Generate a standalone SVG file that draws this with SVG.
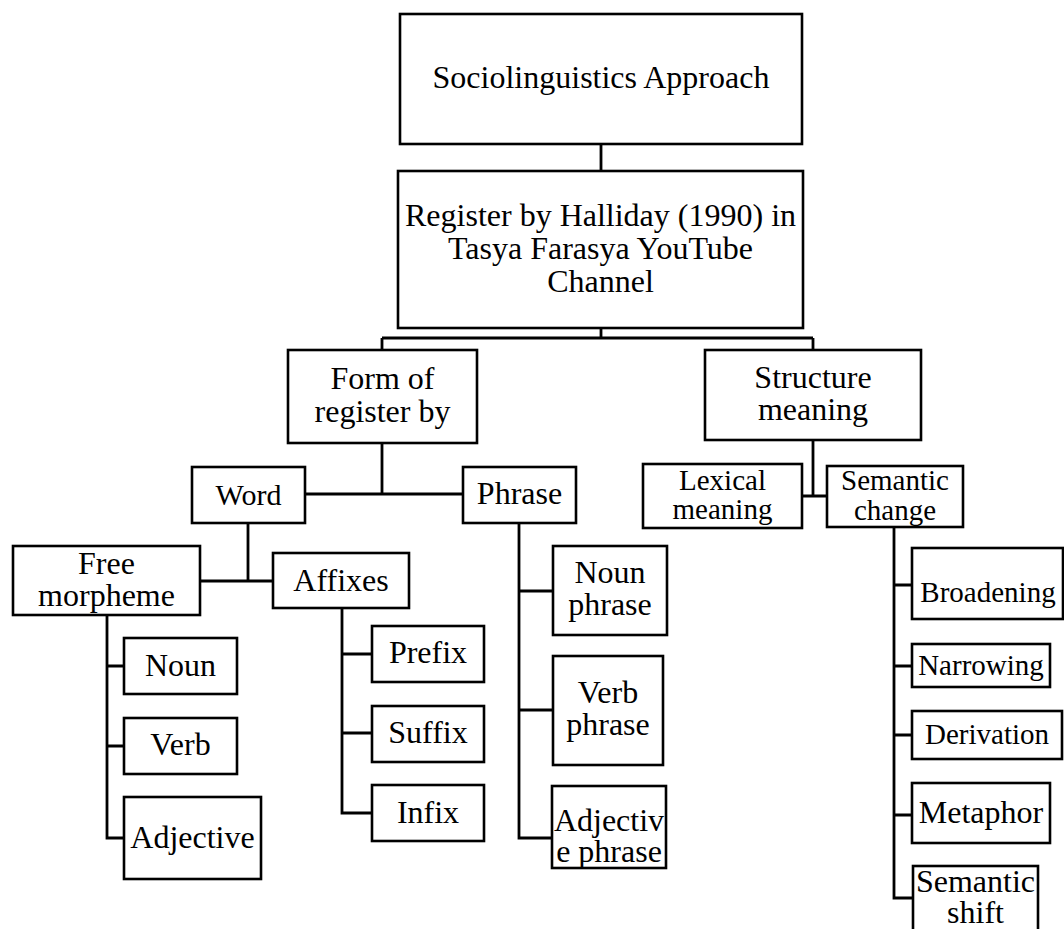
<svg xmlns="http://www.w3.org/2000/svg" width="1064" height="929" viewBox="0 0 1064 929">
<style>
rect{fill:#fff;stroke:#000;stroke-width:2.6}
text{font-family:"Liberation Serif","Times New Roman",serif;font-size:32px;fill:#000;text-anchor:middle}
.s{font-size:29px}
#connectors path{fill:none;stroke:#000;stroke-width:2.8}
</style>
<rect x="0" y="0" width="1064" height="929" style="stroke:none"/>
<g id="connectors">
<path d="M601,144V171M601,328V338M382,338H813M382,338V350M813,338V350"/>
<path d="M382,443V494M305,494H463"/>
<path d="M813,440V496M802,496H827"/>
<path d="M248,523V581M200,581H273"/>
<path d="M107,615V838H124M107,666H124M107,746H124"/>
<path d="M342,608V813H372M342,654H372M342,733H372"/>
<path d="M519,523V838H552M519,591H553M519,710H553"/>
<path d="M894,527V898H913M894,585H912M894,666H912M894,735H912M894,815H912"/>
</g>
<g id="n-top"><rect x="400" y="14" width="402" height="130"/><text x="601" y="88">Sociolinguistics Approach</text></g>
<g id="n-register"><rect x="398" y="171" width="405" height="157"/><text x="600.5" y="226">Register by Halliday (1990) in</text><text x="600.5" y="259">Tasya Farasya YouTube</text><text x="600.5" y="292">Channel</text></g>
<g id="n-form"><rect x="288" y="350" width="189" height="93"/><text x="382.5" y="389">Form of</text><text x="382.5" y="421.5">register by</text></g>
<g id="n-structure"><rect x="705" y="350" width="216" height="90"/><text x="813" y="388">Structure</text><text x="813" y="420">meaning</text></g>
<g id="n-word"><rect x="192" y="467" width="113" height="56"/><text x="248.5" y="505" style="font-size:30px">Word</text></g>
<g id="n-phrase"><rect x="463" y="467" width="113" height="56"/><text x="519.5" y="504">Phrase</text></g>
<g id="n-lexical"><rect x="643" y="464" width="159" height="64"/><text class="s" x="722.5" y="490">Lexical</text><text class="s" x="722.5" y="518.5">meaning</text></g>
<g id="n-semchange"><rect x="827" y="466" width="136" height="61"/><text class="s" x="895" y="489.5">Semantic</text><text class="s" x="895" y="519.5">change</text></g>
<g id="n-free"><rect x="13" y="546" width="187" height="69"/><text x="106.5" y="574">Free</text><text x="106.5" y="606">morpheme</text></g>
<g id="n-affixes"><rect x="273" y="553" width="136" height="55"/><text x="341" y="591">Affixes</text></g>
<g id="n-noun"><rect x="124" y="638" width="113" height="56"/><text x="180.5" y="676">Noun</text></g>
<g id="n-verb"><rect x="124" y="718" width="113" height="56"/><text x="180.5" y="755">Verb</text></g>
<g id="n-adjective"><rect x="124" y="797" width="137" height="82"/><text x="192.5" y="848">Adjective</text></g>
<g id="n-prefix"><rect x="372" y="626" width="112" height="56"/><text x="428" y="663">Prefix</text></g>
<g id="n-suffix"><rect x="372" y="706" width="112" height="56"/><text x="428" y="743">Suffix</text></g>
<g id="n-infix"><rect x="372" y="785" width="112" height="56"/><text x="428" y="822.5">Infix</text></g>
<g id="n-nounphrase"><rect x="553" y="546" width="114" height="89"/><text x="610" y="583">Noun</text><text x="610" y="615">phrase</text></g>
<g id="n-verbphrase"><rect x="553" y="656" width="110" height="109"/><text x="608" y="703">Verb</text><text x="608" y="735">phrase</text></g>
<g id="n-adjphrase"><rect x="552" y="786" width="114" height="82"/><text x="609" y="830.5">Adjectiv</text><text x="609" y="861.5">e phrase</text></g>
<g id="n-broadening"><rect x="912" y="548" width="151" height="71"/><text class="s" x="988" y="602">Broadening</text></g>
<g id="n-narrowing"><rect x="912" y="644" width="138" height="43"/><text class="s" x="981" y="675">Narrowing</text></g>
<g id="n-derivation"><rect x="912" y="711" width="150" height="48"/><text class="s" x="987" y="744">Derivation</text></g>
<g id="n-metaphor"><rect x="912" y="783" width="138" height="60"/><text x="981" y="823">Metaphor</text></g>
<g id="n-semshift"><rect x="913" y="866" width="125" height="75"/><text x="975.5" y="891.5">Semantic</text><text x="975.5" y="923">shift</text></g>
</svg>
